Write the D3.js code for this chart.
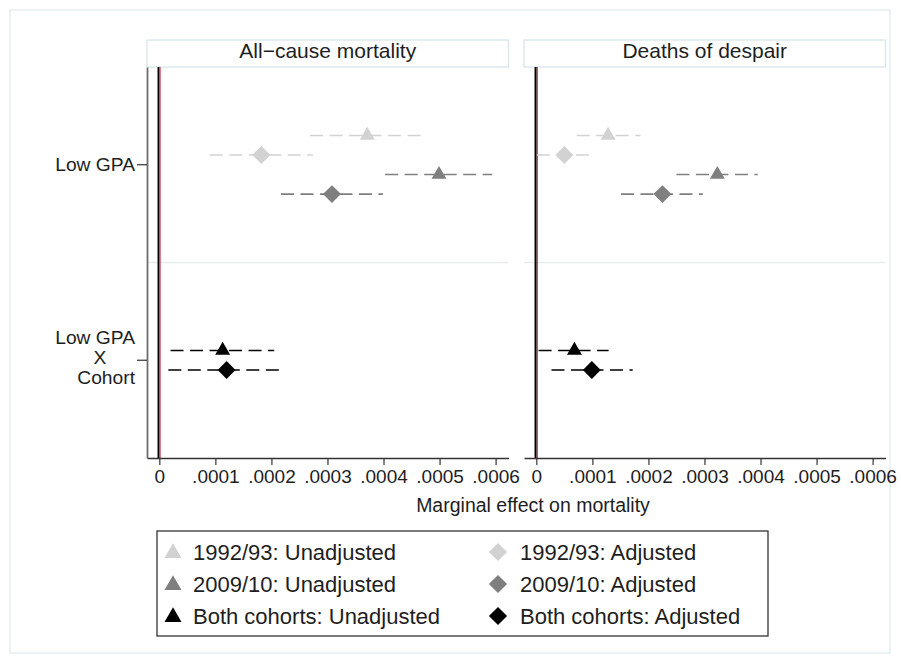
<!DOCTYPE html>
<html>
<head>
<meta charset="utf-8">
<script src="https://cdn.jsdelivr.net/npm/d3@7"></script>
<style>
    body { margin: 0; background: #fff; }
    svg { display: block; font-family: "Liberation Sans", Arial, sans-serif; }
</style>
</head>
<body>
<div id="chart"></div>
<script>
// panels
const outcomes = ["All\u2212cause mortality", "Deaths of despair"];

// coefficient rows (multi-line labels)
const rowLabels = [["Low GPA"], ["Low GPA", "X", "Cohort"]];

// series, in legend order
const seriesNames = ["1992/93: Unadjusted", "1992/93: Adjusted",
    "2009/10: Unadjusted", "2009/10: Adjusted",
    "Both cohorts: Unadjusted", "Both cohorts: Adjusted"];
const seriesRow = [0, 0, 0, 0, 1, 1];

// estimates and 95% CI, all-cause mortality
const allCauseEst = [0.000371, 0.000182, 0.000499, 0.000308, 0.000113, 0.000120];
const allCauseLo  = [0.000269, 0.000090, 0.000403, 0.000217, 0.000020, 0.000016];
const allCauseHi  = [0.000468, 0.000274, 0.000594, 0.000399, 0.000205, 0.000218];

// estimates and 95% CI, deaths of despair
const despairEst = [0.000128, 0.000050, 0.000323, 0.000225, 0.000068, 0.000099];
const despairLo  = [0.000072, 0.000001, 0.000250, 0.000151, 0.000004, 0.000027];
const despairHi  = [0.000186, 0.000095, 0.000395, 0.000297, 0.000129, 0.000172];

// x axis ticks
const xTicks = [0, 0.0001, 0.0002, 0.0003, 0.0004, 0.0005, 0.0006];
const xDomain = [-0.000022, 0.000623];

const panelData = [
    { est: allCauseEst, lo: allCauseLo, hi: allCauseHi },
    { est: despairEst, lo: despairLo, hi: despairHi }
];

// colours and shapes
const color = d3.scaleOrdinal()
                .domain(seriesNames)
                .range(["#d2d2d2", "#d2d2d2", "#7f7f7f", "#7f7f7f", "#000000", "#000000"]);
const shape = d3.scaleOrdinal()
                .domain(seriesNames)
                .range([d3.symbolTriangle, d3.symbolSquare, d3.symbolTriangle,
                        d3.symbolSquare, d3.symbolTriangle, d3.symbolSquare]);

function symbolPath(name, triSize, diaSize) {
    const s = shape(name);
    return d3.symbol().type(s).size(s === d3.symbolTriangle ? triSize : diaSize)();
}
function isDiamond(name) { return shape(name) === d3.symbolSquare; }

// layout
const W = 901, H = 663;
const panelLeft = [147, 524];
const panelWidth = 361.5;
const plotTop = 67, plotBottom = 458, stripTop = 40;

const svg = d3.select("#chart").append("svg")
              .attr("width", W)
              .attr("height", H);

// outer frame
svg.append("rect")
   .attr("x", 10).attr("y", 10)
   .attr("width", 880).attr("height", 643)
   .attr("fill", "none")
   .attr("stroke", "#e4eef0")
   .attr("stroke-width", 1.5);

// row scale
const y = d3.scaleBand()
            .domain(d3.range(rowLabels.length))
            .range([plotTop, plotBottom]);
const step = y.bandwidth() * 0.1;

// offset of each series inside its row
const offsets = rowLabels.map((_, r) => {
    const names = seriesNames.filter((d, i) => seriesRow[i] === r);
    const k = (names.length - 1) / 2;
    return d3.scalePoint().domain(names).range([-k * step, k * step]);
});
const yPos = i => y(seriesRow[i]) + y.bandwidth() / 2 + offsets[seriesRow[i]](seriesNames[i]);

const tickFormat = d => d === 0 ? "0" : d3.format(".4f")(d).replace(/^0/, "");

outcomes.forEach((outcome, p) => {
    const x0 = panelLeft[p];
    const x = d3.scaleLinear()
                .domain(xDomain)
                .range([x0, x0 + panelWidth]);

    // strip title
    svg.append("rect")
       .attr("x", x0).attr("y", stripTop)
       .attr("width", panelWidth).attr("height", plotTop - stripTop)
       .attr("fill", "#fff")
       .attr("stroke", "#d8e5ea")
       .attr("stroke-width", 1.3);
    svg.append("text")
       .attr("x", x0 + panelWidth / 2)
       .attr("y", 58)
       .attr("text-anchor", "middle")
       .attr("font-size", "21px")
       .attr("fill", "#1e1e1e")
       .text(outcome);

    // row divider
    svg.append("line")
       .attr("x1", x0).attr("x2", x0 + panelWidth)
       .attr("y1", y(1)).attr("y2", y(1))
       .attr("stroke", "#e6eded")
       .attr("stroke-width", 1.5);

    // zero line
    svg.append("line")
       .attr("x1", x(0) - 0.8).attr("x2", x(0) - 0.8)
       .attr("y1", plotTop).attr("y2", plotBottom)
       .attr("stroke", "#000")
       .attr("stroke-width", 2);
    svg.append("line")
       .attr("x1", x(0) + 0.8).attr("x2", x(0) + 0.8)
       .attr("y1", plotTop).attr("y2", plotBottom)
       .attr("stroke", p === 0 ? "#c8324e" : "#5a1018")
       .attr("stroke-width", 1);

    // x axis
    const gx = svg.append("g")
       .attr("transform", `translate(0,${plotBottom})`)
       .call(d3.axisBottom(x).tickValues(xTicks).tickFormat(tickFormat)
               .tickSize(7).tickSizeOuter(0).tickPadding(5));
    gx.select(".domain").attr("stroke", "#333").attr("stroke-width", 1.3);
    gx.selectAll(".tick line").attr("stroke", "#333").attr("stroke-width", 1.2);
    gx.selectAll(".tick text")
      .attr("font-size", "19px")
      .attr("font-family", "Liberation Sans, Arial, sans-serif")
      .attr("fill", "#1e1e1e");

    const d = panelData[p];

    // confidence intervals
    svg.append("g")
       .selectAll("line")
       .data(seriesNames)
       .join("line")
       .attr("x1", (n, i) => x(d.lo[i]))
       .attr("x2", (n, i) => x(d.hi[i]))
       .attr("y1", (n, i) => yPos(i))
       .attr("y2", (n, i) => yPos(i))
       .attr("stroke", n => color(n))
       .attr("stroke-width", 1.6)
       .attr("stroke-dasharray", "13,6.5");

    // point estimates
    svg.append("g")
       .selectAll("path")
       .data(seriesNames)
       .join("path")
       .attr("d", n => symbolPath(n, 97, 160))
       .attr("transform", (n, i) => `translate(${x(d.est[i])},${yPos(i)})` + (isDiamond(n) ? " rotate(45)" : ""))
       .attr("fill", n => color(n));
});

// left axis of the first panel
const gy = svg.append("g")
   .attr("transform", `translate(${panelLeft[0]},0)`)
   .call(d3.axisLeft(y).tickSize(10).tickSizeOuter(0).tickFormat(""));
gy.select(".domain").attr("stroke", "#6e6e6e").attr("stroke-width", 1.8);
gy.selectAll(".tick line").attr("stroke", "#333").attr("stroke-width", 1.2);

// row labels (slightly stretched like the original)
rowLabels.forEach((lines, r) => {
    const cy = y(r) + y.bandwidth() / 2;
    const shift = lines.length > 1 ? -3 : 0;
    lines.forEach((line, k) => {
        const centred = line.length === 1;
        const tx = centred ? panelLeft[0] - 47 : panelLeft[0] - 12;
        const ty = cy + (k - (lines.length - 1) / 2) * 20 + shift;
        svg.append("text")
           .attr("transform", `translate(${tx},${ty}) scale(1.1,1)`)
           .attr("dy", "0.36em")
           .attr("text-anchor", centred ? "middle" : "end")
           .attr("font-size", "17.5px")
           .attr("fill", "#1e1e1e")
           .text(line);
    });
});

// axis title
svg.append("text")
   .attr("x", 533)
   .attr("y", 512)
   .attr("text-anchor", "middle")
   .attr("font-size", "19.5px")
   .attr("fill", "#1e1e1e")
   .text("Marginal effect on mortality");

// legend
const legend = svg.append("g");
legend.append("rect")
      .attr("x", 157).attr("y", 531)
      .attr("width", 611).attr("height", 105)
      .attr("fill", "#fff")
      .attr("stroke", "#333")
      .attr("stroke-width", 1.3);

const legendCol = [173, 498];
const legendRow = d3.scalePoint().domain([0, 1, 2]).range([552, 616]);

const items = legend.selectAll("g.item")
      .data(seriesNames)
      .join("g")
      .attr("class", "item")
      .attr("transform", (n, i) => `translate(${legendCol[i % 2]},${legendRow(Math.floor(i / 2))})`);

items.append("path")
     .attr("d", n => symbolPath(n, 125, 165))
     .attr("transform", n => isDiamond(n) ? "rotate(45)" : "translate(0,1)")
     .attr("fill", n => color(n));

items.append("text")
     .attr("x", (n, i) => i % 2 === 0 ? 20 : 22)
     .attr("dy", "0.36em")
     .attr("font-size", "22px")
     .attr("fill", "#1e1e1e")
     .text(n => n);
</script>
</body>
</html>
